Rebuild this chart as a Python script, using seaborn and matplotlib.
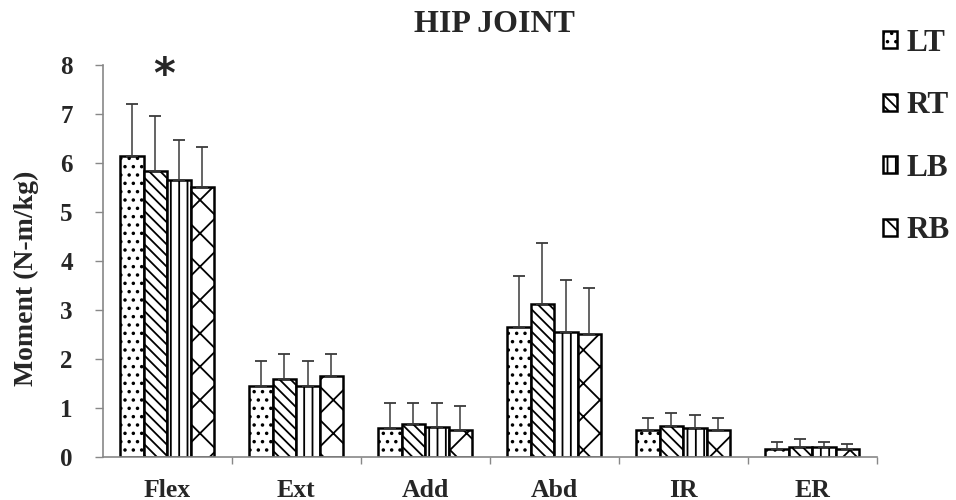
import numpy as np
import pandas as pd
import matplotlib
matplotlib.use("Agg")
import matplotlib.pyplot as plt
import seaborn as sns

# Hip joint moments by movement and condition
movements = ["Flex", "Ext", "Add", "Abd", "IR", "ER"]
groups = ["LT", "RT", "LB", "RB"]

lt_mean = [6.14, 1.44, 0.59, 2.64, 0.55, 0.16]
rt_mean = [5.84, 1.59, 0.66, 3.11, 0.62, 0.20]
lb_mean = [5.65, 1.45, 0.60, 2.55, 0.58, 0.20]
rb_mean = [5.50, 1.65, 0.545, 2.50, 0.55, 0.165]

lt_sd = [1.05, 0.51, 0.51, 1.04, 0.25, 0.13]
rt_sd = [1.12, 0.51, 0.44, 1.26, 0.27, 0.16]
lb_sd = [0.81, 0.51, 0.50, 1.06, 0.28, 0.11]
rb_sd = [0.82, 0.44, 0.49, 0.94, 0.23, 0.10]

y_ticks = [0, 1, 2, 3, 4, 5, 6, 7, 8]

means = [lt_mean, rt_mean, lb_mean, rb_mean]
sds = [lt_sd, rt_sd, lb_sd, rb_sd]

df = pd.DataFrame({
    "movement": np.repeat([movements], len(groups), axis=0).ravel(),
    "group": np.repeat(groups, len(movements)),
    "moment": np.concatenate(means),
    "sd": np.concatenate(sds),
})

sns.set_theme(style="white")
plt.rcParams["font.family"] = ["Liberation Serif", "DejaVu Serif"]
plt.rcParams["font.weight"] = "bold"
plt.rcParams["hatch.linewidth"] = 1.3
plt.rcParams["hatch.color"] = "black"

fig = plt.figure(figsize=(9.56, 5.0), dpi=100)
ax = fig.add_axes([0.1074, 0.0866, 0.8096, 0.784])

sns.barplot(data=df, x="movement", y="moment", hue="group",
            order=movements, hue_order=groups, errorbar=None,
            width=0.73, palette=["white"] * 4, edgecolor="black",
            linewidth=1.8, legend=False, ax=ax)

bar_containers = list(ax.containers)
hatches = ["..", "\\\\\\", "||", "x"]
for cont, hatch, sd in zip(bar_containers, hatches, sds):
    xs, tops = [], []
    for bar in cont.patches:
        bar.set_hatch(hatch)
        bar.set_edgecolor("black")
        bar.set_facecolor("white")
        xs.append(bar.get_x() + bar.get_width() / 2)
        tops.append(bar.get_height())
    ax.errorbar(xs, tops, yerr=[np.zeros(len(sd)), sd], fmt="none",
                ecolor="#3a3a3a", elinewidth=1.1, capsize=4.3,
                capthick=1.3, zorder=1)

# significance marker above the RT flexion bar
rt_flex = bar_containers[1].patches[0]
ax.text(rt_flex.get_x() + 0.87 * rt_flex.get_width(), 7.76, "*",
        ha="center", va="center", fontsize=30, fontweight="bold",
        family="DejaVu Sans", clip_on=False)

ax.set_ylim(0, 8)
ax.set_xlim(-0.5, len(movements) - 0.5)
ax.set_yticks(y_ticks)
ax.set_yticklabels([str(t) for t in y_ticks], fontsize=18, fontweight="bold")
ax.set_xticks(range(len(movements)))
ax.set_xticklabels(movements, fontsize=18.5, fontweight="bold")
ax.set_xticks(np.arange(0.5, len(movements), 1.0), minor=True)
ax.tick_params(axis="x", which="major", length=0, pad=16)
ax.tick_params(axis="x", which="minor", length=5, width=1, color="#888888",
               direction="out", bottom=True)
ax.tick_params(axis="y", length=5.5, width=1, color="#888888", direction="out",
               pad=16, left=True)
ax.set_xlabel("")
ax.set_ylabel("")

for side in ["top", "right"]:
    ax.spines[side].set_visible(False)
for side in ["left", "bottom"]:
    ax.spines[side].set_color("#888888")
    ax.spines[side].set_linewidth(1.2)

fig.text(26 / 956, 1 - 278 / 500, "Moment (N-m/kg)", rotation=90,
         ha="center", va="center", fontsize=20, fontweight="bold")
fig.text(494 / 956, 1 - 25 / 500, "HIP JOINT", ha="center", va="center",
         fontsize=23, fontweight="bold")

handles = [cont.patches[0] for cont in bar_containers]
leg = fig.legend(handles, groups, loc="upper left",
                 bbox_to_anchor=(883 / 956, 1 - 29 / 500), frameon=False,
                 prop={"size": 22.5, "weight": "bold"}, handlelength=0.45,
                 handleheight=0.45, handletextpad=0.3, labelspacing=1.07,
                 borderpad=0, borderaxespad=0)

fig.savefig("out.png", dpi=100)
